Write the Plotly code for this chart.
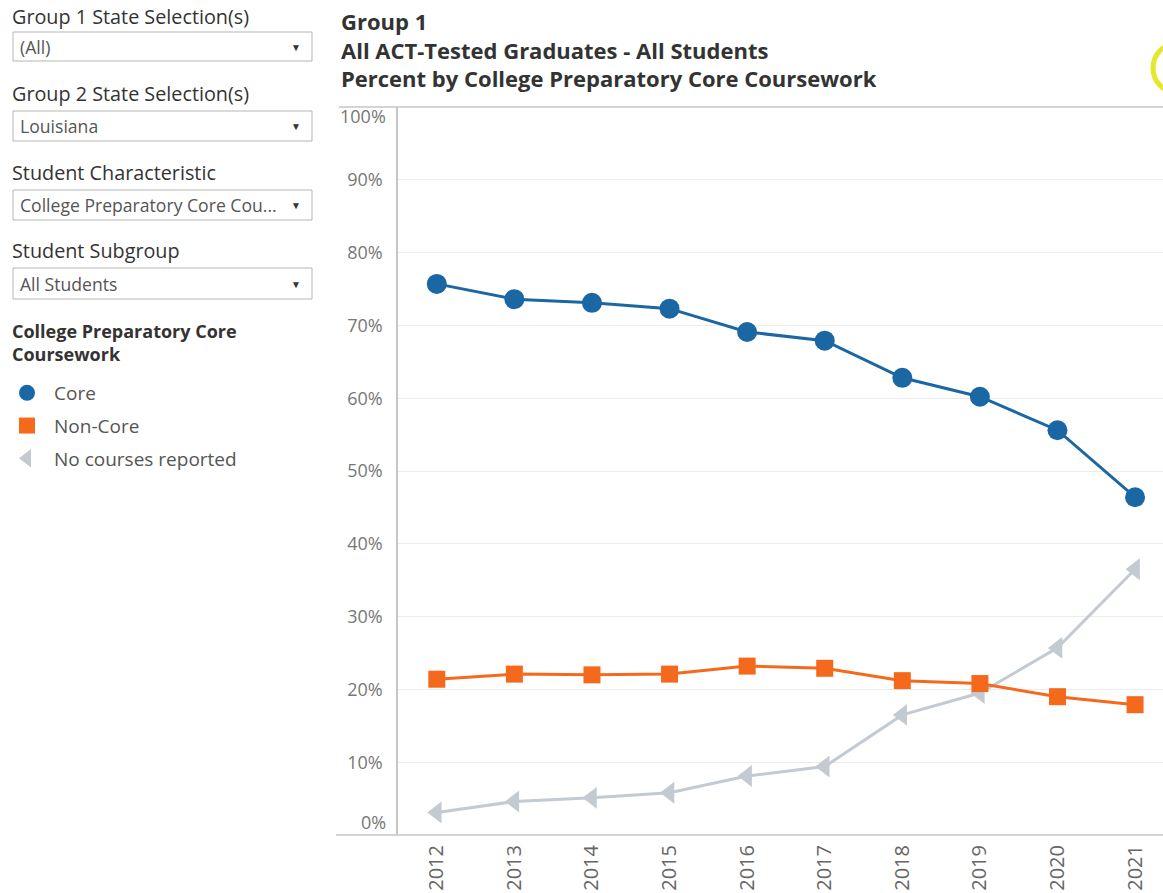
import plotly.graph_objects as go

years = ["2012", "2013", "2014", "2015", "2016", "2017", "2018", "2019", "2020", "2021"]
core = [75.7, 73.6, 73.1, 72.3, 69.1, 67.9, 62.8, 60.2, 55.6, 46.4]
non_core = [21.4, 22.1, 22.0, 22.1, 23.2, 22.9, 21.2, 20.8, 19.0, 17.9]
no_courses = [3.1, 4.6, 5.1, 5.8, 8.1, 9.4, 16.5, 19.5, 25.7, 36.5]

y_ticks = [0, 10, 20, 30, 40, 50, 60, 70, 80, 90, 100]
y_tick_labels = [f"{v}%" for v in y_ticks]

filter_labels = ["Group 1 State Selection(s)", "Group 2 State Selection(s)",
                 "Student Characteristic", "Student Subgroup"]
filter_values = ["(All)", "Louisiana", "College Preparatory Core Cou...", "All Students"]

title_lines = ["Group 1", "All ACT-Tested Graduates - All Students",
               "Percent by College Preparatory Core Coursework"]
legend_title_lines = ["College Preparatory Core", "Coursework"]

W, H = 1163, 893
L, R, T, B = 398, 1163, 107, 835


def px(x):
    return (x - L) / (R - L)


def py(y):
    return (B - y) / (B - T)


FONT = "Open Sans"
BLUE = "#1b67a3"
ORANGE = "#f5691d"
GRAY = "#c3cad2"

fig = go.Figure()

series = [
    ("No courses reported", no_courses, GRAY, "triangle-left", 19, 3),
    ("Non-Core", non_core, ORANGE, "square", 17, 2),
    ("Core", core, BLUE, "circle", 20, 1),
]
for name, vals, col, sym, size, rank in series:
    fig.add_trace(go.Scatter(x=years, y=vals, mode="lines", line=dict(color=col, width=3),
                             showlegend=False, hoverinfo="skip"))
    fig.add_trace(go.Scatter(x=years, y=vals, mode="markers", name=name,
                             legendgroup=name, legendrank=rank,
                             marker=dict(color=col, symbol=sym, size=size, line=dict(width=0))))

shapes = []
annotations = []

# pane border lines
shapes.append(dict(type="line", xref="paper", yref="paper", x0=px(339), x1=px(1163), y0=py(107), y1=py(107),
                   line=dict(color="#c6c6c6", width=1.5)))
shapes.append(dict(type="line", xref="paper", yref="paper", x0=px(336), x1=px(1163), y0=py(835), y1=py(835),
                   line=dict(color="#c6c6c6", width=1.5)))

# yellow highlight circle (top right)
shapes.append(dict(type="circle", xref="paper", yref="paper", x0=px(1153), x1=px(1203), y0=py(93), y1=py(43),
                   line=dict(color="#e6e62a", width=5)))

# filter panel
label_y = [16, 93, 172, 251]
box_y = [(32, 61), (111, 141), (190, 220), (268, 299)]
for lab, val, ly, (b0, b1) in zip(filter_labels, filter_values, label_y, box_y):
    annotations.append(dict(text=lab, xref="paper", yref="paper", x=px(10), y=py(ly), xanchor="left",
                            yanchor="middle", showarrow=False, font=dict(family=FONT, size=19.8, color="#333333")))
    shapes.append(dict(type="rect", xref="paper", yref="paper", x0=px(13), x1=px(312), y0=py(b1), y1=py(b0),
                       line=dict(color="#b5b5b5", width=1), fillcolor="white"))
    annotations.append(dict(text=val, xref="paper", yref="paper", x=px(18), y=py((b0 + b1) / 2), xanchor="left",
                            yanchor="middle", showarrow=False, font=dict(family=FONT, size=17.6, color="#555555")))
    annotations.append(dict(text="▼", xref="paper", yref="paper", x=px(296), y=py((b0 + b1) / 2), xanchor="center",
                            yanchor="middle", showarrow=False, font=dict(family=FONT, size=10, color="#333333")))

# legend title
annotations.append(dict(text="<b>" + "<br>".join(legend_title_lines) + "</b>", xref="paper", yref="paper",
                        x=px(10), y=py(342), xanchor="left", yanchor="middle", align="left", showarrow=False,
                        font=dict(family=FONT, size=18, color="#333333")))

# chart title
annotations.append(dict(text="<b>" + "<br>".join(title_lines) + "</b>", xref="paper", yref="paper",
                        x=px(339), y=py(49.5), xanchor="left", yanchor="middle", align="left", showarrow=False,
                        font=dict(family=FONT, size=22, color="#333333")))

# end tick labels (drawn inset, as in the source)
annotations.append(dict(text=y_tick_labels[-1], xref="paper", yref="paper", x=px(388), y=py(116),
                        xanchor="right", yanchor="middle", showarrow=False,
                        font=dict(family=FONT, size=18, color="#777777")))
annotations.append(dict(text=y_tick_labels[0], xref="paper", yref="paper", x=px(388), y=py(822),
                        xanchor="right", yanchor="middle", showarrow=False,
                        font=dict(family=FONT, size=18, color="#777777")))
inner_text = [""] + y_tick_labels[1:-1] + [""]

fig.update_layout(
    width=W, height=H,
    margin=dict(l=L, r=W - R, t=T, b=H - B, pad=0),
    plot_bgcolor="white", paper_bgcolor="white",
    font=dict(family=FONT, color="#666666"),
    shapes=shapes, annotations=annotations,
    legend=dict(
        xref="container", yref="container", x=0, y=1 - 374 / H, xanchor="left", yanchor="top",
        font=dict(family=FONT, size=19, color="#555555"), itemwidth=44,
        tracegroupgap=5, bgcolor="rgba(0,0,0,0)", traceorder="grouped",
    ),
    xaxis=dict(type="category", range=[-0.5, 9.36], showgrid=False, showline=False, zeroline=False,
               tickangle=-90, tickfont=dict(family=FONT, size=20, color="#666666"), ticks="",
               ticklabelstandoff=5),
    yaxis=dict(range=[0, 100], tickmode="array", tickvals=y_ticks, ticktext=inner_text,
               showgrid=True, gridcolor="#ececec",
               gridwidth=1, zeroline=False, showline=True, linecolor="#c6c6c6", linewidth=1.5, ticks="",
               tickfont=dict(family=FONT, size=18, color="#777777"), ticklabelstandoff=10),
)

fig.write_html("out.html", config={"displayModeBar": False},
               post_script="document.body.style.margin='0';document.body.style.padding='0';")
